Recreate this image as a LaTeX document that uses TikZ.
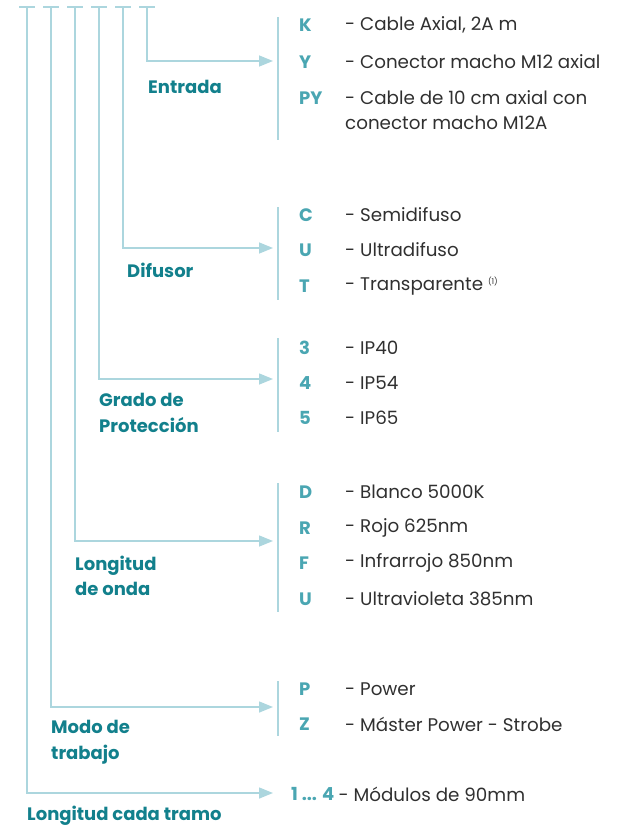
\documentclass[tikz,border=0pt]{standalone}
\usepackage{fontspec}
\setmainfont{Poppins}
\usetikzlibrary{arrows.meta,positioning}
\definecolor{linea}{RGB}{172,214,222}
\definecolor{titulo}{RGB}{18,128,140}
\definecolor{codigo}{RGB}{74,166,178}
\definecolor{texto}{RGB}{48,48,48}

\begin{document}
\begin{tikzpicture}[x=1pt, y=-1pt,
  ln/.style={draw=linea, line width=1.5pt},
  arr/.style={ln, -{Triangle[length=14pt, width=11pt]}},
  ttl/.style={anchor=west, inner sep=0pt, align=left, text=titulo, font=\fontsize{18}{25.5}\selectfont\bfseries},
  cod/.style={anchor=west, inner sep=0pt, text=codigo, font=\fontsize{18}{25}\selectfont\bfseries},
  desc/.style={anchor=west, inner sep=0pt, align=left, text=texto, font=\fontsize{18.3}{25}\selectfont}
]
\useasboundingbox (0,0) rectangle (622,830);

% tees on top
\foreach \i/\x in {1/27, 2/51, 3/75, 4/99, 5/123, 6/147} {
  \coordinate (t\i) at (\x,7);
  \draw[ln] ([xshift=-8pt]t\i) -- ([xshift=8pt]t\i);
}

% arrow ends
\coordinate (eIn) at (273,61);
\coordinate (eDif) at (273,248);
\coordinate (eIP) at (273,379);
\coordinate (eOnda) at (273,541);
\coordinate (eModo) at (273,707);
\coordinate (eTramo) at (273,793);

\draw[arr] (t6) |- (eIn);
\draw[arr] (t5) |- (eDif);
\draw[arr] (t4) |- (eIP);
\draw[arr] (t3) |- (eOnda);
\draw[arr] (t2) |- (eModo);
\draw[arr] (t1) |- (eTramo);

% bars
\draw[ln] (278,17) -- (278,140);
\draw[ln] (278,207) -- (278,300);
\draw[ln] (278,338) -- (278,432);
\draw[ln] (278,483) -- (278,612);
\draw[ln] (278,681) -- (278,736);

% titles
\node[ttl] (entrada) at (148,87) {Entrada};
\node[ttl] (difusor) at (127,270) {Difusor};
\node[ttl] (grado) at (99,413) {Grado de\\Protección};
\node[ttl] (onda) at (75,576) {Longitud\\de onda};
\node[ttl] (modo) at (51,742) {Modo de\\trabajo};
\node[ttl] (tramo) at (27,816) {Longitud cada tramo};

% Entrada
\node[cod] (k) at (299,25) {K};
\node[cod] (y) at (299,62) {Y};
\node[cod] (py) at (299,98) {PY};
\node[desc] (dk) at (345,25) {- Cable Axial, 2A m};
\node[desc] (dy) at (345,62) {- Conector macho M12 axial};
\node[desc] (dpy) at (345,110.5) {- Cable de 10 cm axial con\\conector macho M12A};

% Difusor
\node[cod] (c) at (299,215) {C};
\node[cod] (u) at (299,250) {U};
\node[cod] (t) at (299,286) {T};
\node[desc] (dc) at (345,215) {- Semidifuso};
\node[desc] (du) at (345,250) {- Ultradifuso};
\node[desc] (dt) at (345,286) {- Transparente \raisebox{6pt}{\fontsize{8}{9}\selectfont(1)}};

% Grado de proteccion
\node[cod] (ip3) at (299,348) {3};
\node[cod] (ip4) at (299,383) {4};
\node[cod] (ip5) at (299,418) {5};
\node[desc] (dip3) at (345,348) {- IP40};
\node[desc] (dip4) at (345,383) {- IP54};
\node[desc] (dip5) at (345,418) {- IP65};

% Longitud de onda
\node[cod] (d) at (299,492) {D};
\node[cod] (r) at (299,528) {R};
\node[cod] (f) at (299,563) {F};
\node[cod] (uv) at (299,599) {U};
\node[desc] (dd) at (345,492) {- Blanco 5000K};
\node[desc] (dr) at (345,528) {- Rojo 625nm};
\node[desc] (df) at (345,563) {- Infrarrojo 850nm};
\node[desc] (duv) at (345,599) {- Ultravioleta 385nm};

% Modo de trabajo
\node[cod] (p) at (299,689) {P};
\node[cod] (z) at (299,724) {Z};
\node[desc] (dp) at (345,689) {- Power};
\node[desc] (dz) at (345,724) {- Máster Power - Strobe};

% Longitud cada tramo
\node[cod] (mod) at (291,794) {1 ... 4};
\node[desc, right=4pt of mod] (dmod) {- Módulos de 90mm};
\end{tikzpicture}
\end{document}
